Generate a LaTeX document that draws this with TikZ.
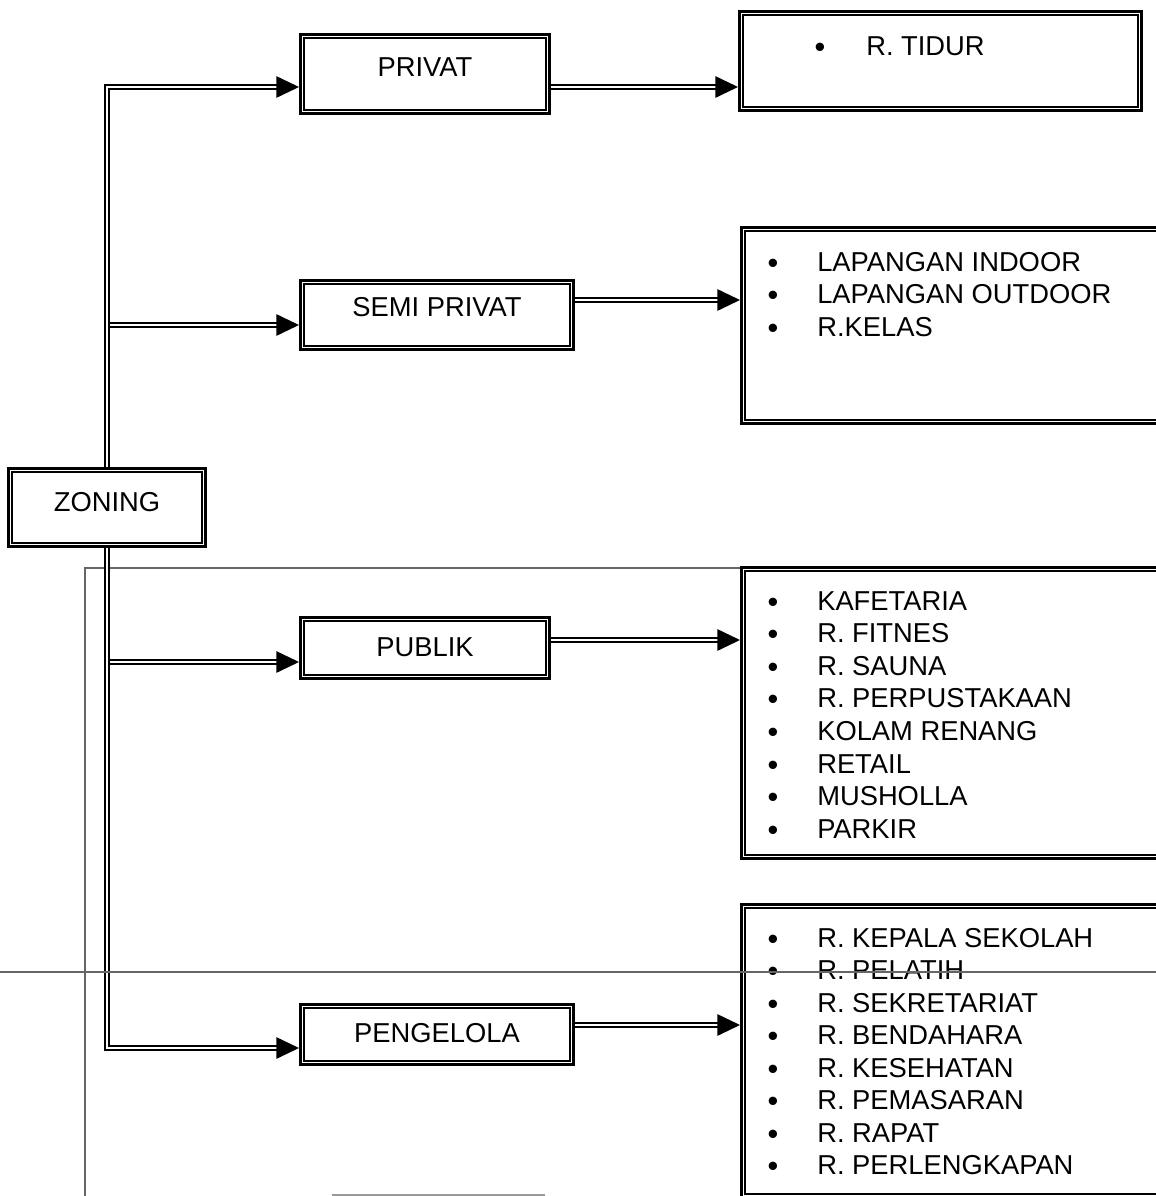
\documentclass[tikz,border=0pt]{standalone}
\usepackage{fontspec}
\setmainfont{Liberation Sans}
\usetikzlibrary{arrows.meta,calc}
\tikzset{
  zbox/.style={draw, line width=2.6pt, fill=white, inner sep=0pt},
  zin/.style={draw, line width=1.2pt},
  dline/.style={draw, line width=1.35pt, double=white, double distance=1.6pt},
  dconn/.style={dline, -{Triangle[length=17pt,width=16pt]}},
  lbl/.style={font=\fontsize{20.5}{24}\selectfont, inner sep=0pt},
  bul/.style={font=\fontsize{23}{24}\selectfont, inner sep=0pt, anchor=base},
  stray/.style={draw=black!60, line width=0.8pt}
}
\newcommand\dbox[5]{%
  \node[zbox, minimum width={(#4-#2-3.5)*0.75pt}, minimum height={(#5-#3-3.5)*0.75pt}] (#1) at ({(#2+#4)/2},{(#3+#5)/2}) {};
  \draw[zin] ($(#1.north west)+(4.8,4.8)$) rectangle ($(#1.south east)+(-4.8,-4.8)$);}
\begin{document}
\begin{tikzpicture}[x=0.75pt,y=-0.75pt]
\useasboundingbox (0,0) rectangle (1156,1196);
\clip (0,0) rectangle (1156,1196);
\fill[white] (0,0) rectangle (1156,1196);
% stray scan lines (behind)
\coordinate (s1) at (85,568);
\coordinate (s2) at (1156,568);
\coordinate (s3) at (85,1196);
\draw[stray] (s3) -- (s1) -- (s2);
% boxes
\dbox{zn}{7}{467}{207}{548}
\dbox{pv}{299}{33}{551}{115}
\dbox{sp}{299}{279}{575}{351}
\dbox{pb}{299}{616}{551}{680}
\dbox{pg}{299}{1003}{575}{1066}
\dbox{td}{738}{10}{1143}{112}
\dbox{sl}{740}{226}{1170}{425}
\dbox{pl}{740}{566}{1170}{860}
\dbox{gl}{740}{903}{1170}{1199}
% connectors
\draw[dconn] (zn.north) |- (pv.west |- 0,87);
\draw[dconn, shorten <=2.2pt] (zn.north |- 0,325) -- (sp.west |- 0,325);
\draw[dconn, shorten <=2.2pt] (zn.south |- 0,662) -- (pb.west |- 0,662);
\draw[dconn] (zn.south) |- (pg.west |- 0,1048);
\draw[dconn] (pv.east |- 0,87) -- (td.west |- 0,87);
\draw[dconn] (sp.east |- 0,300) -- (sl.west |- 0,300);
\draw[dconn] (pb.east |- 0,640) -- (pl.west |- 0,640);
\draw[dconn] (pg.east |- 0,1025) -- (gl.west |- 0,1025);
% labels
\node[lbl] (znt) at (107,502) {ZONING};
\node[lbl] (pvt) at (425,67) {PRIVAT};
\node[lbl] (spt) at (437,307) {SEMI PRIVAT};
\node[lbl] (pbt) at (425,647) {PUBLIK};
\node[lbl] (pgt) at (437,1033) {PENGELOLA};
% lists
\node[bul] (tdb1) at (820,57) {•};
\node[lbl, anchor=base west] (tdt1) at (866,55) {R. TIDUR};
\foreach \t [count=\i] in {LAPANGAN INDOOR, LAPANGAN OUTDOOR, R.KELAS}{
  \node[bul] (slb\i) at (773,{273+(\i-1)*32.5}) {•};
  \node[lbl, anchor=base west] (slt\i) at (817,{271+(\i-1)*32.5}) {\t};
}
\foreach \t [count=\i] in {KAFETARIA, R. FITNES, R. SAUNA, R. PERPUSTAKAAN, KOLAM RENANG, RETAIL, MUSHOLLA, PARKIR}{
  \node[bul] (plb\i) at (773,{612+(\i-1)*32.6}) {•};
  \node[lbl, anchor=base west] (plt\i) at (817,{610+(\i-1)*32.6}) {\t};
}
\foreach \t [count=\i] in {R. KEPALA SEKOLAH, R. PELATIH, R. SEKRETARIAT, R. BENDAHARA, R. KESEHATAN, R. PEMASARAN, R. RAPAT, R. PERLENGKAPAN}{
  \node[bul] (glb\i) at (773,{949+(\i-1)*32.5}) {•};
  \node[lbl, anchor=base west] (glt\i) at (817,{947+(\i-1)*32.5}) {\t};
}
% stray scan lines (front)
\coordinate (s4) at (0,972);
\coordinate (s5) at (1156,972);
\draw[stray] (s4) -- (s5);
\coordinate (s6) at (332,1195);
\coordinate (s7) at (545,1195);
\draw[draw=black!40, line width=1.2pt] (s6) -- (s7);
\end{tikzpicture}
\end{document}
